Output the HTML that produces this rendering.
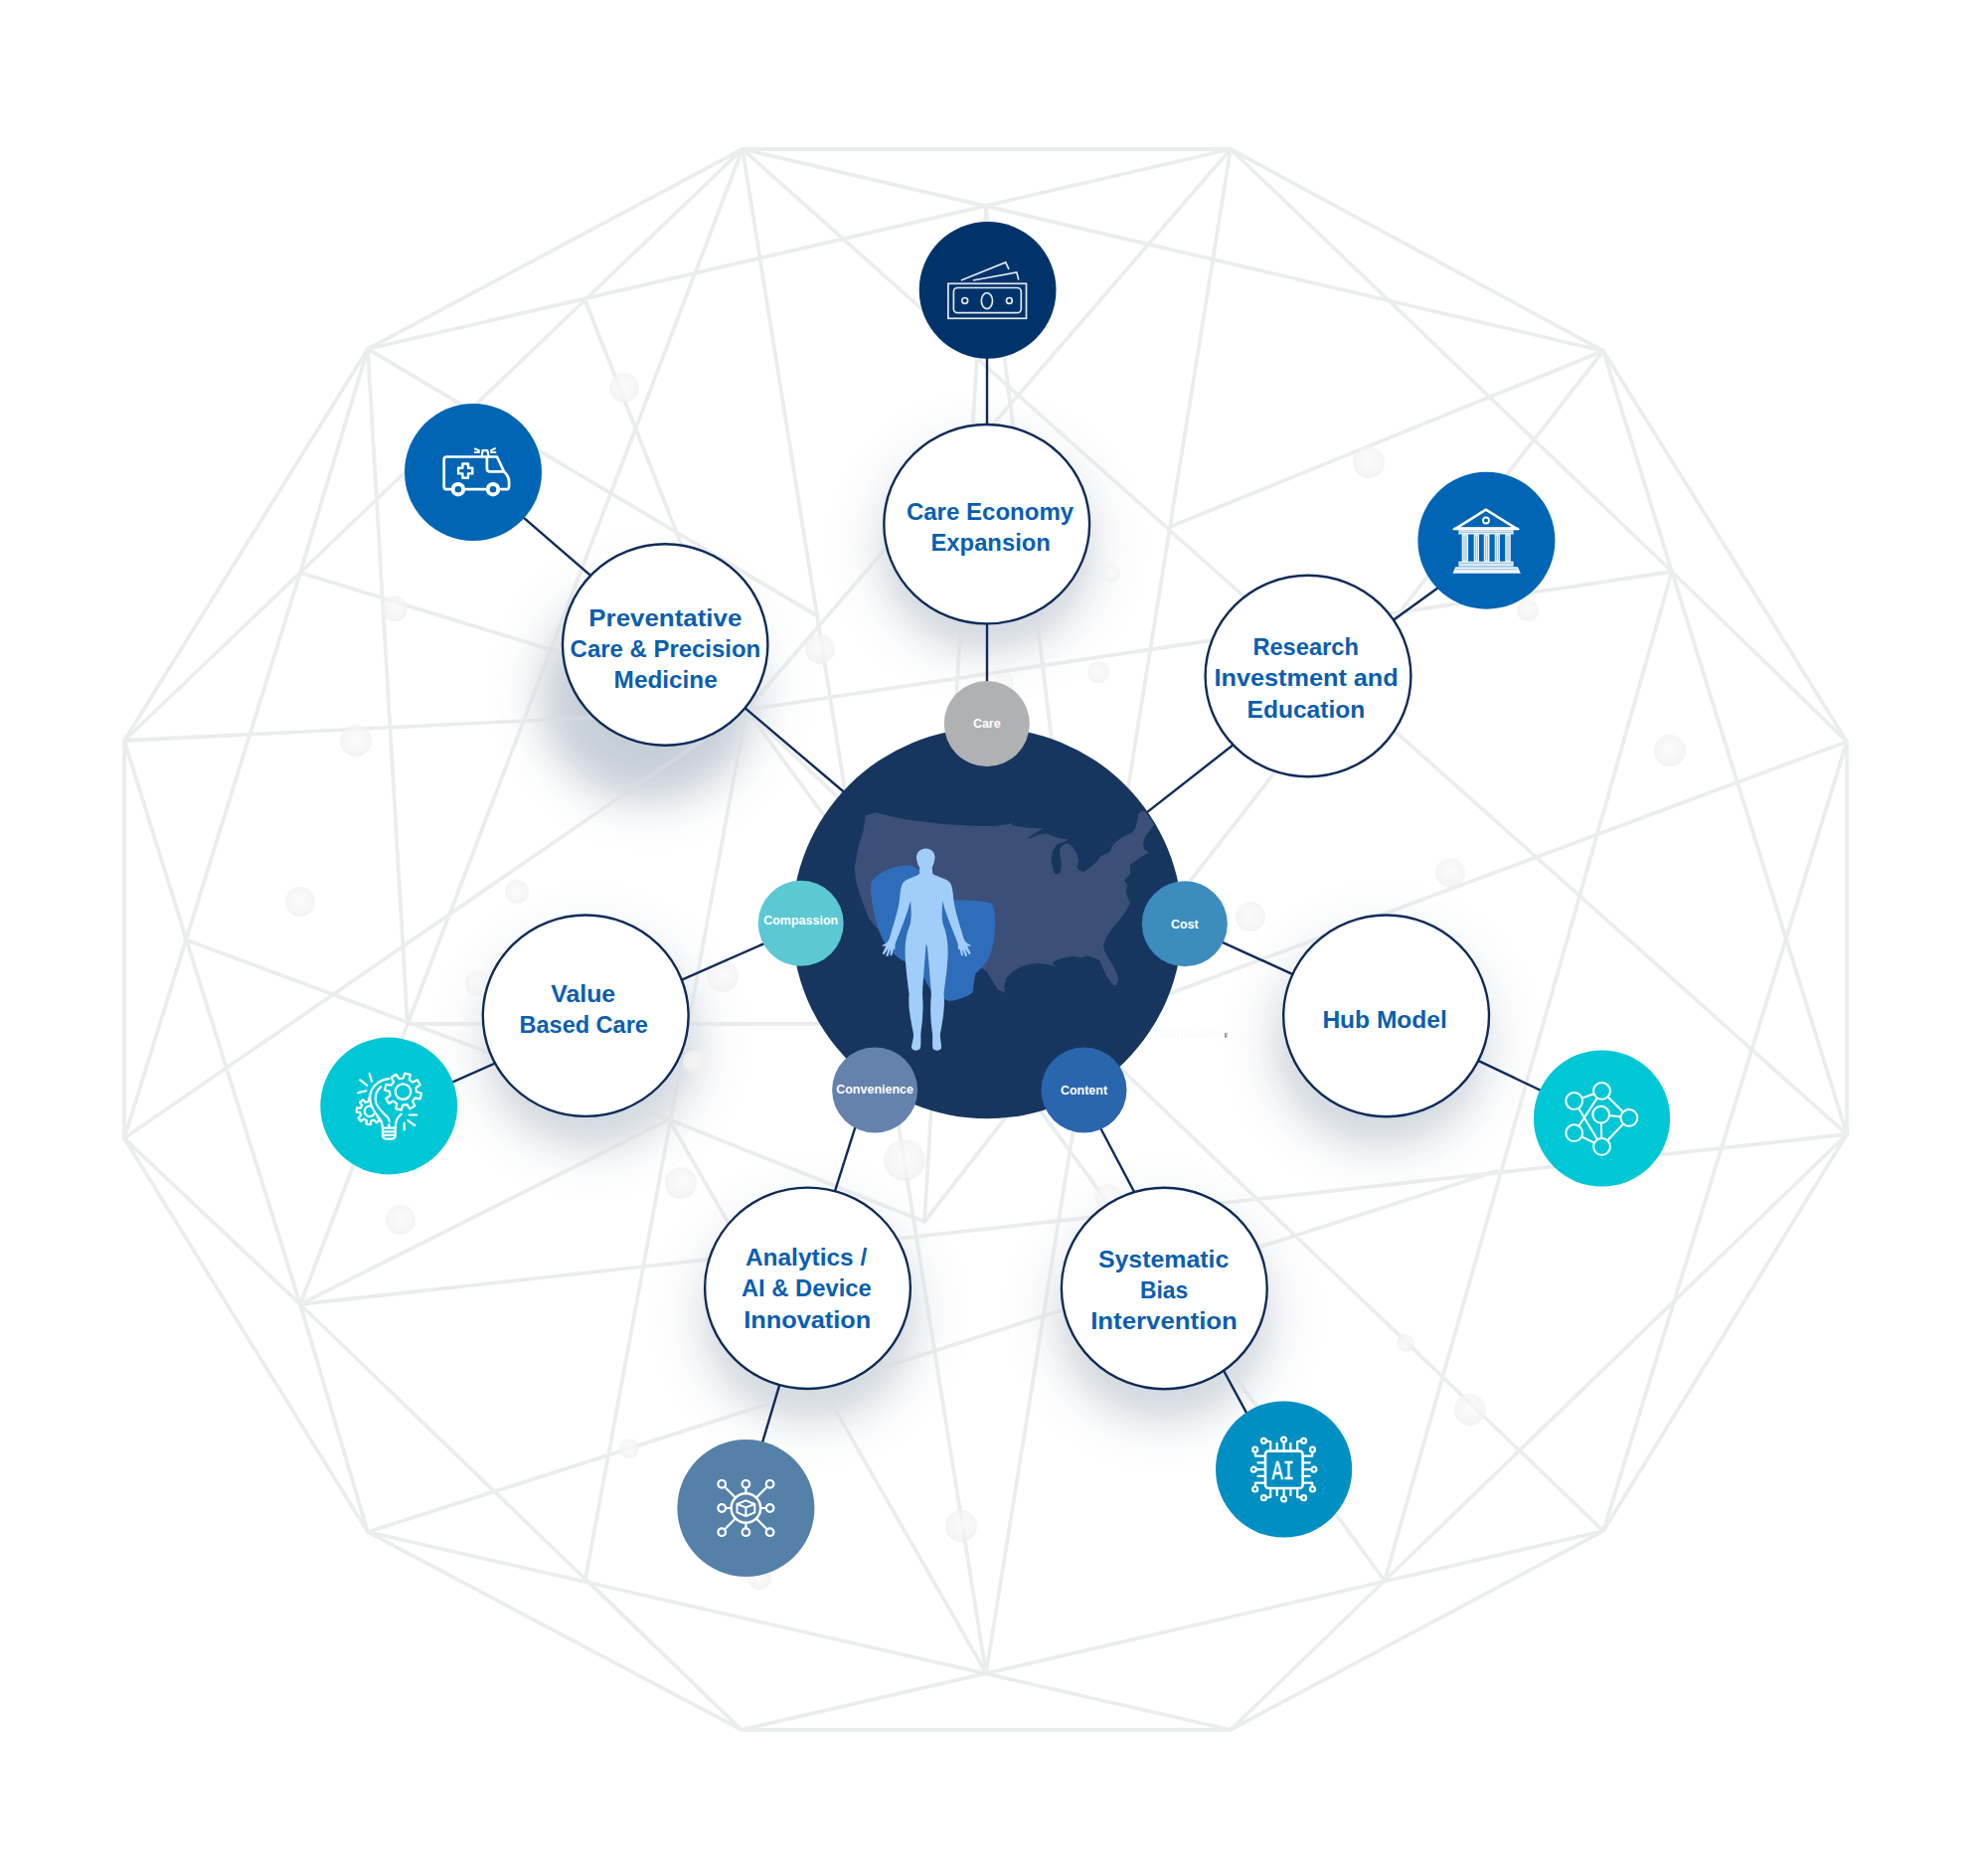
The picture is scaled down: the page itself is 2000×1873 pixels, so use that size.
<!DOCTYPE html>
<html lang="en"><head><meta charset="utf-8"><title>Care model</title>
<style>html,body{margin:0;padding:0;background:#fff}svg{display:block}</style>
</head><body>
<svg width="2000" height="1873" viewBox="0 0 2000 1873">
<defs>
<filter id="blur15" x="-60%" y="-60%" width="220%" height="220%"><feGaussianBlur stdDeviation="15"/></filter>
<filter id="blur16" x="-60%" y="-60%" width="220%" height="220%"><feGaussianBlur stdDeviation="16"/></filter>
<filter id="blur18" x="-60%" y="-60%" width="220%" height="220%"><feGaussianBlur stdDeviation="18"/></filter>
<filter id="blur30" x="-60%" y="-60%" width="220%" height="220%"><feGaussianBlur stdDeviation="30"/></filter>
<filter id="blur42" x="-60%" y="-60%" width="220%" height="220%"><feGaussianBlur stdDeviation="42"/></filter>
<filter id="blur60" x="-60%" y="-60%" width="220%" height="220%"><feGaussianBlur stdDeviation="60"/></filter>
<radialGradient id="bub" cx="50%" cy="45%" r="55%"><stop offset="0" stop-color="#fafafa"/><stop offset="0.75" stop-color="#f3f3f3"/><stop offset="1" stop-color="#eeeeee"/></radialGradient>
<clipPath id="cclip"><circle cx="993.1" cy="928.7" r="196.5"/></clipPath>
</defs>
<rect width="2000" height="1873" fill="#fff"/>
<ellipse cx="654.8" cy="694.4" rx="113.2" ry="111.2" fill="#2b4669" opacity="0.12" filter="url(#blur30)"/>
<ellipse cx="992.7" cy="549.3" rx="113.4" ry="110.2" fill="#2b4669" opacity="0.1" filter="url(#blur30)"/>
<ellipse cx="594.0" cy="1047.2" rx="113.4" ry="111.2" fill="#2b4669" opacity="0.1" filter="url(#blur30)"/>
<ellipse cx="1389.8" cy="1045.7" rx="113.4" ry="111.4" fill="#2b4669" opacity="0.1" filter="url(#blur30)"/>
<ellipse cx="814.1" cy="1321.3" rx="113.4" ry="111.2" fill="#2b4669" opacity="0.1" filter="url(#blur30)"/>
<ellipse cx="1171.3" cy="1321.5" rx="113.4" ry="111.2" fill="#2b4669" opacity="0.1" filter="url(#blur30)"/>
<ellipse cx="651.2" cy="702.5" rx="105.2" ry="103.2" fill="#2b4669" opacity="0.16" filter="url(#blur18)"/>
<ellipse cx="992.7" cy="553.2" rx="105.4" ry="102.2" fill="#2b4669" opacity="0.12" filter="url(#blur15)"/>
<ellipse cx="595.2" cy="1051.7" rx="105.4" ry="103.2" fill="#2b4669" opacity="0.12" filter="url(#blur16)"/>
<ellipse cx="1388.6" cy="1049.9" rx="105.4" ry="103.4" fill="#2b4669" opacity="0.12" filter="url(#blur16)"/>
<ellipse cx="814.5" cy="1325.8" rx="105.4" ry="103.2" fill="#2b4669" opacity="0.12" filter="url(#blur16)"/>
<ellipse cx="1171.3" cy="1326.0" rx="105.4" ry="103.2" fill="#2b4669" opacity="0.12" filter="url(#blur16)"/>
<g opacity="0.56"><g stroke="#dbdfe1" stroke-width="3.8" stroke-linecap="round" fill="none">
<line x1="747" y1="150" x2="1238" y2="150"/>
<line x1="1238" y1="150" x2="1613" y2="353"/>
<line x1="1613" y1="353" x2="1858" y2="746"/>
<line x1="1858" y1="746" x2="1858" y2="1141"/>
<line x1="1858" y1="1141" x2="1613" y2="1540"/>
<line x1="1613" y1="1540" x2="1238" y2="1740"/>
<line x1="1238" y1="1740" x2="746" y2="1740"/>
<line x1="746" y1="1740" x2="370" y2="1541"/>
<line x1="370" y1="1541" x2="125" y2="1145"/>
<line x1="125" y1="1145" x2="125" y2="745"/>
<line x1="125" y1="745" x2="370" y2="351"/>
<line x1="370" y1="351" x2="747" y2="150"/>
<line x1="747" y1="150" x2="1613" y2="353"/>
<line x1="1238" y1="150" x2="370" y2="351"/>
<line x1="747" y1="150" x2="302" y2="576"/>
<line x1="747" y1="150" x2="302" y2="1312"/>
<line x1="747" y1="150" x2="992" y2="1683"/>
<line x1="747" y1="150" x2="1858" y2="1141"/>
<line x1="1238" y1="150" x2="751" y2="714"/>
<line x1="1238" y1="150" x2="992" y2="1683"/>
<line x1="1238" y1="150" x2="1682" y2="575"/>
<line x1="370" y1="351" x2="823" y2="620"/>
<line x1="370" y1="351" x2="302" y2="576"/>
<line x1="370" y1="351" x2="410" y2="1030"/>
<line x1="589" y1="303" x2="751" y2="714"/>
<line x1="302" y1="576" x2="125" y2="745"/>
<line x1="302" y1="576" x2="125" y2="1145"/>
<line x1="302" y1="576" x2="751" y2="714"/>
<line x1="125" y1="745" x2="302" y2="1312"/>
<line x1="125" y1="745" x2="751" y2="714"/>
<line x1="125" y1="1145" x2="751" y2="714"/>
<line x1="751" y1="714" x2="1682" y2="575"/>
<line x1="751" y1="714" x2="589" y2="1588"/>
<line x1="751" y1="714" x2="1393" y2="1590"/>
<line x1="751" y1="714" x2="1613" y2="1540"/>
<line x1="186" y1="945" x2="673" y2="1126"/>
<line x1="302" y1="1312" x2="125" y2="1145"/>
<line x1="302" y1="1312" x2="370" y2="1541"/>
<line x1="302" y1="1312" x2="673" y2="1126"/>
<line x1="302" y1="1312" x2="1858" y2="1141"/>
<line x1="302" y1="1312" x2="746" y2="1740"/>
<line x1="673" y1="1126" x2="992" y2="1683"/>
<line x1="673" y1="1126" x2="930" y2="1229"/>
<line x1="370" y1="1541" x2="1506" y2="1178"/>
<line x1="370" y1="1541" x2="1238" y2="1740"/>
<line x1="1613" y1="1540" x2="746" y2="1740"/>
<line x1="589" y1="1588" x2="746" y2="1740"/>
<line x1="1393" y1="1590" x2="1238" y2="1740"/>
<line x1="1682" y1="575" x2="1393" y2="1590"/>
<line x1="1682" y1="575" x2="1858" y2="1141"/>
<line x1="1682" y1="575" x2="1858" y2="746"/>
<line x1="1682" y1="575" x2="1613" y2="353"/>
<line x1="1858" y1="746" x2="1613" y2="1540"/>
<line x1="1858" y1="1141" x2="1393" y2="1590"/>
<line x1="1613" y1="353" x2="1177" y2="530"/>
<line x1="1613" y1="353" x2="930" y2="1229"/>
<line x1="992" y1="209" x2="930" y2="1229"/>
<line x1="992" y1="209" x2="1060" y2="760"/>
<line x1="410" y1="1030" x2="840" y2="1030"/>
<line x1="1858" y1="746" x2="1100" y2="1028"/>
</g></g>
<g opacity="0.75">
<circle cx="628" cy="390" r="15" fill="url(#bub)"/>
<circle cx="397" cy="612" r="13" fill="url(#bub)"/>
<circle cx="358" cy="745" r="16" fill="url(#bub)"/>
<circle cx="302" cy="907" r="15" fill="url(#bub)"/>
<circle cx="520" cy="897" r="12" fill="url(#bub)"/>
<circle cx="727" cy="982" r="16" fill="url(#bub)"/>
<circle cx="698" cy="1068" r="11" fill="url(#bub)"/>
<circle cx="685" cy="1190" r="16" fill="url(#bub)"/>
<circle cx="403" cy="1227" r="15" fill="url(#bub)"/>
<circle cx="633" cy="1457" r="10" fill="url(#bub)"/>
<circle cx="910" cy="1167" r="21" fill="url(#bub)"/>
<circle cx="967" cy="1535" r="16" fill="url(#bub)"/>
<circle cx="764" cy="1587" r="12" fill="url(#bub)"/>
<circle cx="1115" cy="1204" r="13" fill="url(#bub)"/>
<circle cx="1414" cy="1351" r="9" fill="url(#bub)"/>
<circle cx="1479" cy="1418" r="16" fill="url(#bub)"/>
<circle cx="1680" cy="755" r="16" fill="url(#bub)"/>
<circle cx="1459" cy="878" r="15" fill="url(#bub)"/>
<circle cx="1258" cy="922" r="15" fill="url(#bub)"/>
<circle cx="1377" cy="465" r="16" fill="url(#bub)"/>
<circle cx="1537" cy="614" r="11" fill="url(#bub)"/>
<circle cx="1118" cy="577" r="9" fill="url(#bub)"/>
<circle cx="1105" cy="676" r="11" fill="url(#bub)"/>
<circle cx="1010" cy="687" r="10" fill="url(#bub)"/>
<circle cx="825" cy="653" r="15" fill="url(#bub)"/>
<circle cx="481" cy="989" r="13" fill="url(#bub)"/>
</g>
<g stroke="#0c2c5a" stroke-width="2.4" fill="none">
<line x1="993.0" y1="340.0" x2="993.0" y2="447.0"/>
<line x1="993.0" y1="608.0" x2="993.0" y2="705.0"/>
<line x1="504.8" y1="501.7" x2="615.8" y2="597.7"/>
<line x1="728.1" y1="694.0" x2="870.6" y2="815.0"/>
<line x1="1379.0" y1="640.3" x2="1469.2" y2="575.0"/>
<line x1="1263.3" y1="731.5" x2="1130.6" y2="835.4"/>
<line x1="429.0" y1="1100.2" x2="524.2" y2="1057.9"/>
<line x1="659.8" y1="997.2" x2="792.8" y2="938.6"/>
<line x1="1208.3" y1="938.1" x2="1326.9" y2="992.1"/>
<line x1="1460.8" y1="1054.4" x2="1576.4" y2="1109.4"/>
<line x1="867.3" y1="1112.2" x2="831.4" y2="1225.1"/>
<line x1="791.7" y1="1368.1" x2="757.4" y2="1483.1"/>
<line x1="1097.0" y1="1115.5" x2="1154.8" y2="1225.0"/>
<line x1="1217.1" y1="1353.0" x2="1267.4" y2="1445.9"/>
</g>
<ellipse cx="669.2" cy="648.5" rx="103.2" ry="101.2" fill="#fff" stroke="#0c2c5a" stroke-width="2.4"/>
<ellipse cx="992.7" cy="527.2" rx="103.4" ry="100.2" fill="#fff" stroke="#0c2c5a" stroke-width="2.4"/>
<ellipse cx="1316.0" cy="680.0" rx="103.4" ry="101.2" fill="#fff" stroke="#0c2c5a" stroke-width="2.4"/>
<ellipse cx="589.2" cy="1021.7" rx="103.4" ry="101.2" fill="#fff" stroke="#0c2c5a" stroke-width="2.4"/>
<ellipse cx="1394.6" cy="1021.9" rx="103.4" ry="101.4" fill="#fff" stroke="#0c2c5a" stroke-width="2.4"/>
<ellipse cx="812.5" cy="1295.8" rx="103.4" ry="101.2" fill="#fff" stroke="#0c2c5a" stroke-width="2.4"/>
<ellipse cx="1171.3" cy="1296.0" rx="103.4" ry="101.2" fill="#fff" stroke="#0c2c5a" stroke-width="2.4"/>
<g font-family="'Liberation Sans', sans-serif" font-weight="700" font-size="24" fill="#0a5eb0">
<text x="592.3" y="629.9" textLength="154.0" lengthAdjust="spacingAndGlyphs">Preventative</text>
<text x="573.6" y="660.7" textLength="191.6" lengthAdjust="spacingAndGlyphs">Care &amp; Precision</text>
<text x="617.6" y="691.7" textLength="104.2" lengthAdjust="spacingAndGlyphs">Medicine</text>
<text x="911.9" y="522.5" textLength="168.3" lengthAdjust="spacingAndGlyphs">Care Economy</text>
<text x="936.5" y="554.0" textLength="120.3" lengthAdjust="spacingAndGlyphs">Expansion</text>
<text x="1260.4" y="658.8" textLength="106.5" lengthAdjust="spacingAndGlyphs">Research</text>
<text x="1221.5" y="690.3" textLength="185.2" lengthAdjust="spacingAndGlyphs">Investment and</text>
<text x="1254.6" y="721.5" textLength="118.6" lengthAdjust="spacingAndGlyphs">Education</text>
<text x="554.2" y="1007.7" textLength="65.0" lengthAdjust="spacingAndGlyphs">Value</text>
<text x="522.5" y="1039.1" textLength="129.4" lengthAdjust="spacingAndGlyphs">Based Care</text>
<text x="1330.4" y="1034.0" textLength="125.4" lengthAdjust="spacingAndGlyphs">Hub Model</text>
<text x="749.9" y="1273.2" textLength="122.4" lengthAdjust="spacingAndGlyphs">Analytics /</text>
<text x="745.9" y="1304.2" textLength="130.8" lengthAdjust="spacingAndGlyphs">AI &amp; Device</text>
<text x="748.2" y="1335.5" textLength="128.1" lengthAdjust="spacingAndGlyphs">Innovation</text>
<text x="1104.9" y="1274.9" textLength="131.5" lengthAdjust="spacingAndGlyphs">Systematic</text>
<text x="1147.0" y="1305.9" textLength="48.3" lengthAdjust="spacingAndGlyphs">Bias</text>
<text x="1097.2" y="1337.2" textLength="147.7" lengthAdjust="spacingAndGlyphs">Intervention</text>
</g>
<circle cx="993.1" cy="928.7" r="196.5" fill="#17365f"/>
<g clip-path="url(#cclip)"><g transform="translate(840,790) scale(0.18109)">
<path d="M170,168 L225,150 L300,170 L400,190 L600,215 L800,226 L884,226 L974,214 L977,205 L986,223 L1070,236 L1157,239 L1114,264 L1067,295 L1089,292 L1133,273 L1176,267 L1207,282 L1257,295 L1294,298 L1282,311 L1232,329 L1207,367 L1201,416 L1214,479 L1229,497 L1251,485 L1260,441 L1251,391 L1248,354 L1270,329 L1294,323 L1319,339 L1344,379 L1354,423 L1344,454 L1357,472 L1382,482 L1419,454 L1456,423 L1475,395 L1500,382 L1531,367 L1537,342 L1556,317 L1600,286 L1649,264 L1668,242 L1681,192 L1687,155 L1705,142 L1727,149 L1755,189 L1774,220 L1752,248 L1724,286 L1712,323 L1718,354 L1746,376 L1712,391 L1674,416 L1640,441 L1640,491 L1606,528 L1625,553 L1615,591 L1631,634 L1640,653 L1618,697 L1587,740 L1544,790 L1506,846 L1491,890 L1500,927 L1531,977 L1559,1027 L1575,1076 L1562,1114 L1544,1108 L1512,1064 L1488,1014 L1469,971 L1431,955 L1400,946 L1369,958 L1319,949 L1270,958 L1220,974 L1207,989 L1232,1008 L1182,995 L1133,989 L1089,992 L1039,1005 L989,1033 L952,1070 L940,1114 L943,1151 L905,1135 L870,1080 L845,1035 L810,1010 L780,1035 L745,1000 L715,965 L620,968 L600,990 L480,950 L400,900 L300,880 L262,830 L190,742 L150,640 L118,540 L108,460 L128,350 L158,250 Z" fill="#3b4f78"/>
<path d="M198,545 C230,480 340,440 425,445 L470,470 L640,640 C720,635 830,640 875,658 C893,700 892,780 885,840 C878,900 865,945 845,975 C825,1005 800,1030 780,1047 L772,1095 L766,1150 C745,1170 700,1185 660,1195 L630,1197 C560,1170 520,1130 500,1080 L420,990 C360,975 310,930 262,850 C225,760 195,640 198,545 Z" fill="#2e6db9"/>
<path d="M505,350 C535,350 557,372 555,402 C553,428 545,445 540,455 L542,490 C560,505 610,515 635,535 C655,555 655,600 660,640 C668,700 690,760 715,850 L728,872 L760,892 L735,893 L755,935 L745,940 L722,905 L735,948 L724,950 L708,910 L712,945 L702,945 L692,905 L685,915 L683,880 C670,840 625,740 605,670 L598,640 C595,700 592,730 600,770 C625,830 632,900 625,980 C620,1060 610,1100 605,1160 C612,1230 600,1300 585,1380 C583,1400 590,1430 592,1455 C588,1475 560,1478 545,1465 C538,1440 545,1400 540,1370 C530,1300 528,1230 535,1160 C530,1080 520,960 512,890 L506,885 C500,960 490,1080 486,1160 C492,1230 488,1300 478,1370 C474,1400 482,1440 472,1465 C455,1478 430,1475 425,1455 C428,1430 438,1400 436,1380 C420,1300 405,1230 412,1160 C405,1100 398,1060 392,980 C385,900 392,830 418,770 C426,730 424,700 420,640 L412,670 C392,740 350,840 335,880 L333,915 L326,905 L316,945 L306,945 L310,910 L294,950 L283,948 L296,905 L273,940 L263,935 L283,893 L258,892 L290,872 L303,850 C328,760 350,700 358,640 C363,600 363,555 383,535 C408,515 455,505 470,490 L470,455 C462,445 455,428 453,402 C451,372 475,350 505,350 Z" fill="#a1cdfa"/>
</g></g>
<circle cx="992.8" cy="728.0" r="43.0" fill="#b0b1b3"/>
<circle cx="805.7" cy="928.8" r="43.0" fill="#5cc8d3"/>
<circle cx="1191.8" cy="929.3" r="43.0" fill="#3c8dbd"/>
<circle cx="880.1" cy="1096.5" r="43.0" fill="#6482ab"/>
<circle cx="1090.5" cy="1096.5" r="43.0" fill="#2a66ae"/>
<g font-family="'Liberation Sans', sans-serif" font-weight="700" font-size="12.5" fill="#fff" text-anchor="middle">
<text x="992.8" y="732.1">Care</text>
<text x="805.7" y="930.3">Compassion</text>
<text x="1191.8" y="933.6">Cost</text>
<text x="880.1" y="1099.7">Convenience</text>
<text x="1090.5" y="1100.6">Content</text>
</g>
<text x="1161" y="1043.6" font-family="'Liberation Sans', sans-serif" font-weight="700" font-size="12.2" fill="#f9fafb" textLength="70" lengthAdjust="spacingAndGlyphs">Compassion</text><rect x="1232.2" y="1039" width="1.3" height="4.8" fill="#6b6f78"/><rect x="1233.5" y="1038.8" width="1.3" height="5" fill="#a9b3de"/>
<circle cx="993.6" cy="291.8" r="68.9" fill="#00336a"/>
<g transform="translate(993.6,291.8)">
<g fill="none" stroke="#e3e8ef" stroke-width="1.7" stroke-linejoin="miter">
<rect x="-39.7" y="-6.5" width="78.6" height="35"/>
<rect x="-34.2" y="-2.3" width="67.9" height="25.2" rx="4"/>
<ellipse cx="-0.7" cy="10.8" rx="5.6" ry="8"/>
<circle cx="-22.9" cy="10.6" r="2.9"/><circle cx="21.8" cy="10.6" r="2.9"/>
<path d="M-26.7,-9.8 L18.1,-27.9 L21.4,-20.9"/>
<path d="M-14.6,-9.8 L29.2,-17.9 L31.2,-10.3"/>
</g>
</g>
<circle cx="476.0" cy="475.0" r="69.0" fill="#0065b4"/>
<g transform="translate(476.0,475.0)">
<g fill="none" stroke="#fff" stroke-width="2.7" stroke-linecap="round" stroke-linejoin="round">
<path d="M-22.5,17.2 L-26.5,17.2 Q-29.3,17.2 -29.3,14.4 L-29.3,-12.7 Q-29.3,-15.5 -26.5,-15.5 L24,-15.5 L31.3,-0.2 Q36.1,4 36.1,10 L36.1,14.4 Q36.1,17.2 33.3,17.2 L28.2,17.2"/>
<path d="M-7,17.2 L12,17.2"/>
<path d="M13.9,-14.6 L13.9,-3.4 Q13.9,-0.6 16.7,-0.6 L30,-0.6"/>
<path d="M-10.6,-8.5 L-5,-8.5 L-5,-4.2 L-0.7,-4.2 L-0.7,1.4 L-5,1.4 L-5,5.7 L-10.6,5.7 L-10.6,1.4 L-14.9,1.4 L-14.9,-4.2 L-10.6,-4.2 Z" stroke-width="2.4"/>
<path d="M8.7,-15.9 L9.5,-21.9 L14.3,-21.9 L15.6,-15.9" stroke-width="2.2"/>
<path d="M1.9,-23.5 L5.9,-21.9 M1.9,-19.9 L5.9,-19.9 M22,-23.9 L18,-21.9 M22.4,-19.9 L18,-19.9" stroke-width="2"/>
</g>
<circle cx="-15.1" cy="17.2" r="5.3" fill="none" stroke="#fff" stroke-width="4"/>
<circle cx="20" cy="17.2" r="5.3" fill="none" stroke="#fff" stroke-width="4"/>
</g>
<circle cx="1495.4" cy="543.7" r="69.0" fill="#0065b4"/>
<g transform="translate(1495.4,543.7)">
<g fill="none" stroke="#fff" stroke-linejoin="miter">
<path d="M-0.4,-31 L-30.5,-12.2 L29.7,-12.2 Z" stroke-width="2.6"/>
<circle cx="-0.4" cy="-20.2" r="3" stroke-width="1.8"/>
</g>
<g fill="#fff">
<rect x="-32.8" y="-13" width="65.3" height="2.6"/>
<rect x="-28" y="-10.4" width="55.2" height="4.2" opacity="0.92"/>
<rect x="-24.7" y="-6.4" width="6.4" height="27.6" opacity="0.93"/>
<rect x="-12.7" y="-6.4" width="5.3" height="27.6" opacity="0.93"/>
<rect x="-2.6" y="-6.4" width="5.7" height="27.6" opacity="0.93"/>
<rect x="8.3" y="-6.4" width="5.2" height="27.6" opacity="0.93"/>
<rect x="18.8" y="-6.4" width="5.6" height="27.6" opacity="0.93"/>
<rect x="-28" y="21" width="55.2" height="5" opacity="0.9"/>
<path d="M-31,26.6 L31.5,26.6 L34.5,33 L-34,33 Z" opacity="0.95"/>
</g>
<g stroke="#0065b4" stroke-width="0.7" opacity="0.55">
<line x1="-22.5" y1="-5" x2="-22.5" y2="20"/><line x1="-20.5" y1="-5" x2="-20.5" y2="20"/>
<line x1="-11.1" y1="-5" x2="-11.1" y2="20"/><line x1="-9.1" y1="-5" x2="-9.1" y2="20"/>
<line x1="-0.8" y1="-5" x2="-0.8" y2="20"/><line x1="1.2" y1="-5" x2="1.2" y2="20"/>
<line x1="9.9" y1="-5" x2="9.9" y2="20"/><line x1="11.9" y1="-5" x2="11.9" y2="20"/>
<line x1="20.6" y1="-5" x2="20.6" y2="20"/><line x1="22.6" y1="-5" x2="22.6" y2="20"/>
<line x1="-27" y1="23" x2="26" y2="23"/><line x1="-31" y1="29" x2="31" y2="29"/><line x1="-27" y1="-8.4" x2="26" y2="-8.4"/>
</g>
</g>
<circle cx="391.2" cy="1112.5" r="68.9" fill="#00c7d6"/>
<g transform="translate(391.2,1112.5)">
<g fill="none" stroke="#fff" stroke-width="2.2" stroke-linejoin="round">
<path d="M-9.49,3.97 L-5.82,4.54 L-6.24,8.71 L-9.95,8.53 L-11.40,11.23 L-9.20,14.22 L-12.45,16.87 L-14.94,14.13 L-17.87,15.01 L-18.44,18.68 L-22.61,18.26 L-22.43,14.55 L-25.13,13.10 L-28.12,15.30 L-30.77,12.05 L-28.03,9.56 L-28.91,6.63 L-32.58,6.06 L-32.16,1.89 L-28.45,2.07 L-27.00,-0.63 L-29.20,-3.62 L-25.95,-6.27 L-23.46,-3.53 L-20.53,-4.41 L-19.96,-8.08 L-15.79,-7.66 L-15.97,-3.95 L-13.27,-2.50 L-10.28,-4.70 L-7.63,-1.45 L-10.37,1.04 Z"/>
<circle cx="-19.2" cy="5.3" r="5.3"/>
</g>
<path d="M0.2,-27.3 C-12,-26 -19.5,-17 -19,-7 C-18.6,2 -13,8 -9.5,12.5 C-7,16 -6.3,19 -6.3,22.2 L6.6,22.2 C6.6,17 8,13 12.6,8.2 L6,-4 L2,-20 Z" fill="#00c7d6" stroke="none"/>
<g fill="none" stroke="#fff" stroke-width="2.2" stroke-linecap="round" stroke-linejoin="round">
<path d="M0.2,-27.3 C-12,-26 -19.5,-17 -19,-7 C-18.6,2 -13,8 -9.5,12.5 C-7,16 -6.3,19 -6.3,22.2"/>
<path d="M12.6,8.2 C8,11.5 6.6,16 6.6,22.2"/>
<path d="M-7.9,-19.3 C-13,-15 -14.5,-9 -12.8,-3 C-11,3 -5,7.5 -1.5,11 C0.2,13 0.6,14 0.6,15.5"/>
<path d="M0.2,18.5 L0.2,21"/>
<path d="M-6.3,22.2 L-6.3,29 Q-6.3,33.2 -2,33.2 L2.4,33.2 Q6.6,33.2 6.6,29 L6.6,22.2 Z"/>
<path d="M-6.3,25.8 L6.6,25.8 M-6.3,29.4 L6.6,29.4"/>
<path d="M-19.6,-32.5 L-17.2,-24.9 M-28.9,-26.1 L-22,-20.9 M-30.9,-13.2 L-22.8,-15.2 M20.7,9 L28,9 M19.1,14.6 L26,19.4 M15.5,17.4 L15.5,23.9"/>
</g>
<g fill="#00c7d6" stroke="#fff" stroke-width="2.2" stroke-linejoin="round">
<path d="M27.90,-14.20 L32.82,-12.67 L31.38,-7.04 L26.33,-8.05 L23.78,-4.65 L26.18,-0.08 L21.17,2.88 L18.32,-1.41 L14.10,-0.80 L12.57,4.12 L6.94,2.68 L7.95,-2.37 L4.55,-4.92 L-0.02,-2.52 L-2.98,-7.53 L1.31,-10.38 L0.70,-14.60 L-4.22,-16.13 L-2.78,-21.76 L2.27,-20.75 L4.82,-24.15 L2.42,-28.72 L7.43,-31.68 L10.28,-27.39 L14.50,-28.00 L16.03,-32.92 L21.66,-31.48 L20.65,-26.43 L24.05,-23.88 L28.62,-26.28 L31.58,-21.27 L27.29,-18.42 Z"/>
<circle cx="14.3" cy="-14.4" r="7.8"/>
</g>
</g>
<circle cx="750.4" cy="1517.0" r="69.0" fill="#5581a9"/>
<g transform="translate(750.4,1517.0)">
<g fill="none" stroke="#fff" stroke-width="2.2" stroke-linecap="round" stroke-linejoin="round">
<circle cx="0" cy="0" r="14.8" stroke-width="2.5"/>
<circle cx="-24.2" cy="-24.2" r="3.8"/>
<line x1="-11.0" y1="-11.0" x2="-21.2" y2="-21.2"/>
<circle cx="0.0" cy="-24.2" r="3.8"/>
<line x1="0.0" y1="-15.6" x2="0.0" y2="-20.0"/>
<circle cx="24.2" cy="-24.2" r="3.8"/>
<line x1="11.0" y1="-11.0" x2="21.2" y2="-21.2"/>
<circle cx="-24.2" cy="0.0" r="3.8"/>
<line x1="-15.6" y1="0.0" x2="-20.0" y2="0.0"/>
<circle cx="24.2" cy="0.0" r="3.8"/>
<line x1="15.6" y1="0.0" x2="20.0" y2="0.0"/>
<circle cx="-24.2" cy="24.2" r="3.8"/>
<line x1="-11.0" y1="11.0" x2="-21.2" y2="21.2"/>
<circle cx="0.0" cy="24.2" r="3.8"/>
<line x1="0.0" y1="15.6" x2="0.0" y2="20.0"/>
<circle cx="24.2" cy="24.2" r="3.8"/>
<line x1="11.0" y1="11.0" x2="21.2" y2="21.2"/>
<path d="M0,-7.7 L8.9,-4 L8.9,4.4 L0,8.1 L-8.9,4.4 L-8.9,-4 Z M-8.9,-4 L0,-0.6 L8.9,-4 M0,-0.6 L0,8.1" stroke-width="2"/>
</g>
</g>
<circle cx="1291.6" cy="1478.0" r="68.6" fill="#008fc3"/>
<g transform="translate(1291.6,1478.0)">
<g fill="none" stroke="#fff" stroke-width="2.2" stroke-linecap="butt" stroke-linejoin="round">
<rect x="-18.6" y="-18.4" width="37.6" height="37.4" rx="3.2" stroke-width="2.6"/>
<path d="M-6.9,-18.8 L-6.9,-27.0 M6.8,-18.8 L6.8,-27.0 M0,-18.8 L0,-27.3"/>
<path d="M-13.4,-18.8 L-13.4,-28.0 L-17.6,-28.4 M13.6,-18.8 L13.6,-28.0 L17.4,-28.4"/>
<circle cx="0" cy="-29.9" r="2.5"/><circle cx="-20.2" cy="-28.7" r="2.5"/><circle cx="20" cy="-28.7" r="2.5"/>
<path d="M-6.9,18.8 L-6.9,27.0 M6.8,18.8 L6.8,27.0 M0,18.8 L0,27.3"/>
<path d="M-13.4,18.8 L-13.4,28.0 L-17.6,28.4 M13.6,18.8 L13.6,28.0 L17.4,28.4"/>
<circle cx="0" cy="29.9" r="2.5"/><circle cx="-20.2" cy="28.7" r="2.5"/><circle cx="20" cy="28.7" r="2.5"/>
<path d="M-18.8,-6.6 L-27.0,-6.6 M-18.8,6.8 L-27.0,6.8 M-18.8,0.2 L-27.6,0.2"/>
<path d="M-18.8,-13.3 L-28.6,-13.3 L-28.8,-17.4 M-18.8,13.6 L-28.6,13.6 L-28.8,17.6"/>
<circle cx="-30.3" cy="0.2" r="2.5"/><circle cx="-28.9" cy="-19.8" r="2.5"/><circle cx="-28.9" cy="20" r="2.5"/>
<path d="M18.8,-6.6 L27.0,-6.6 M18.8,6.8 L27.0,6.8 M18.8,0.2 L27.6,0.2"/>
<path d="M18.8,-13.3 L28.6,-13.3 L28.8,-17.4 M18.8,13.6 L28.6,13.6 L28.8,17.6"/>
<circle cx="30.3" cy="0.2" r="2.5"/><circle cx="28.9" cy="-19.8" r="2.5"/><circle cx="28.9" cy="20" r="2.5"/>
</g>
<text x="-0.8" y="9.9" font-family="'Liberation Mono', monospace" font-size="28" fill="#fff" stroke="#fff" stroke-width="0.5" text-anchor="middle" textLength="22.5" lengthAdjust="spacingAndGlyphs">AI</text>
</g>
<circle cx="1611.5" cy="1125.0" r="68.6" fill="#00c7d6"/>
<g transform="translate(1611.5,1125.0)">
<g fill="none" stroke="#fff" stroke-width="2" stroke-linecap="round">
<line x1="-19.9" y1="-20.4" x2="-7.9" y2="-24.7"/>
<line x1="6.0" y1="-21.7" x2="21.4" y2="-6.5"/>
<line x1="7.5" y1="-2.9" x2="19.1" y2="-1.5"/>
<line x1="21.6" y1="5.5" x2="5.8" y2="22.3"/>
<line x1="-20.3" y1="18.4" x2="-7.5" y2="24.7"/>
<line x1="-0.6" y1="4.6" x2="-0.2" y2="20.0"/>
<line x1="-23.4" y1="-10.3" x2="-4.4" y2="21.2"/>
<line x1="-4.6" y1="-20.6" x2="-23.2" y2="7.7"/>
</g>
<g fill="#00c7d6" stroke="#fff" stroke-width="2">
<circle cx="0" cy="-27.6" r="8.4"/>
<circle cx="-27.8" cy="-17.5" r="8.4"/>
<circle cx="-0.8" cy="-3.8" r="8.4"/>
<circle cx="27.4" cy="-0.6" r="8.4"/>
<circle cx="-27.8" cy="14.7" r="8.4"/>
<circle cx="0" cy="28.4" r="8.4"/>
</g>
</g>
</svg>
</body></html>
